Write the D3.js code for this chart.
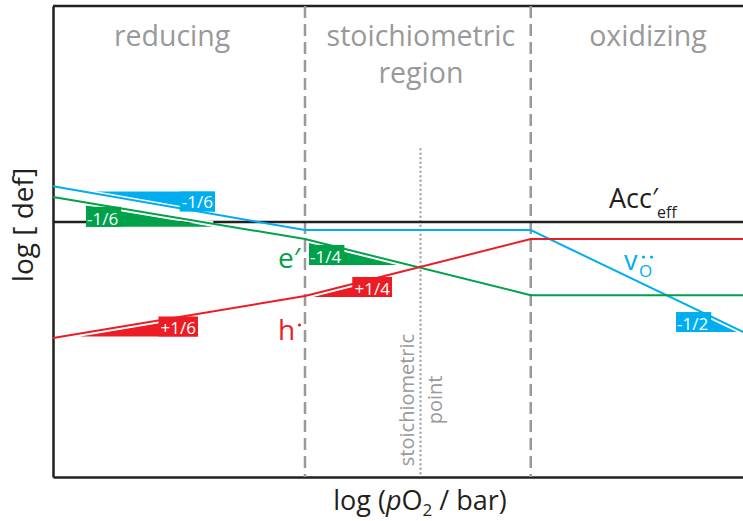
<!DOCTYPE html>
<html>
<head>
<meta charset="utf-8">
<script src="https://cdn.jsdelivr.net/npm/d3@7"></script>
<style>
  body { margin: 0; background: #fff; }
  text { font-family: "Open Sans", sans-serif; }
</style>
</head>
<body>
<svg id="chart" width="743" height="521"></svg>
<script>
/***** Data *****/
// log(pO2) at the region boundaries (arbitrary units)
var xBreaks = [0, 12, 22.75, 33];
var acceptor = [0, 0, 0, 0];
var vacancies = [1.71, -0.38, -0.38, -5.3];
var electrons = [1.19, -0.81, -3.48, -3.48];
var holes = [-5.52, -3.52, -0.81, -0.81];
var stoichPoint = 17.5;
var stoichTop = 3.52;
var regionLabels = [["reducing"], ["stoichiometric", "region"], ["oxidizing"]];
var regionCenters = [5.67, 17.52, 28.33];

// slope triangles
var slopeSeries = ["vacancies", "electrons", "electrons", "holes", "holes", "vacancies"];
var slopeStart = [1.76, 1.57, 12.19, 12.38, 1.29, 29.67];
var slopeEnd = [7.71, 7.62, 16.38, 16.14, 6.9, 32.57];
var slopeSide = ["above", "below", "below", "below", "below", "below"];
var slopeClip = [null, null, null, null, null, -4.43];
var slopeLabels = ["-1/6", "-1/6", "-1/4", "+1/4", "+1/6", "-1/2"];

(function (d3) {

    /***** Configuration *****/
    var margin = { top: 6, right: 0, bottom: 44, left: 53 };
    var svg = d3.select("#chart");
    var width = 743 - margin.left - margin.right;
    var height = 521 - margin.top - margin.bottom;

    var colors = {
        acceptor: "#231f20",
        vacancies: "#00aeef",
        electrons: "#00a14b",
        holes: "#ed1c24"
    };
    var series = {
        acceptor: acceptor,
        vacancies: vacancies,
        electrons: electrons,
        holes: holes
    };
    var gray = "#999999";

    /***** Scales *****/
    var x = d3.scaleLinear().domain([0, 33]).range([0, 693]);
    var y = d3.scaleLinear().domain([-12.14, 10.29]).range([height, 0]);

    var g = svg.append("g")
               .attr("transform", "translate(" + margin.left + "," + margin.top + ")");

    // piecewise value of a series at log(pO2) = v
    function valueAt(name, v) {
        return d3.scaleLinear().domain(xBreaks).range(series[name])(v);
    }

    /***** Frame *****/
    var xAxis = d3.axisBottom(x).tickValues([]).tickSizeOuter(0);
    var yAxis = d3.axisLeft(y).tickValues([]).tickSizeOuter(0);
    g.append("g").attr("transform", "translate(0," + height + ")").call(xAxis)
        .select(".domain").attr("stroke", "#231f20").attr("stroke-width", 2.5);
    g.append("g").call(yAxis)
        .select(".domain").attr("stroke", "#231f20").attr("stroke-width", 2.5);
    g.append("line")
        .attr("x1", x(0)).attr("x2", width)
        .attr("y1", 0).attr("y2", 0)
        .attr("stroke", "#231f20").attr("stroke-width", 2.5);

    /***** Region boundaries *****/
    g.selectAll(".boundary")
        .data([xBreaks[1], xBreaks[2]])
        .enter().append("line")
        .attr("class", "boundary")
        .attr("x1", function (d) { return x(d); })
        .attr("x2", function (d) { return x(d); })
        .attr("y1", 0).attr("y2", height)
        .attr("stroke", gray).attr("stroke-width", 2.5)
        .attr("stroke-dasharray", "12,6");

    g.append("line")
        .attr("x1", x(stoichPoint)).attr("x2", x(stoichPoint))
        .attr("y1", y(stoichTop)).attr("y2", height)
        .attr("stroke", gray).attr("stroke-width", 2)
        .attr("stroke-dasharray", "2,2.5");

    var regions = g.selectAll(".region")
        .data(regionLabels)
        .enter().append("text")
        .attr("class", "region")
        .attr("text-anchor", "middle")
        .attr("fill", gray)
        .style("font-size", "28.5px");
    regions.selectAll("tspan")
        .data(function (d, i) { return d.map(function (t) { return { t: t, i: i }; }); })
        .enter().append("tspan")
        .attr("x", function (d) { return x(regionCenters[d.i]); })
        .attr("y", function (d, j) { return 40 + j * 37; })
        .text(function (d) { return d.t; });

    /***** Acceptor line (under triangles) *****/
    var line = d3.line()
        .x(function (d, i) { return x(xBreaks[i]); })
        .y(function (d) { return y(d); });

    g.append("path")
        .attr("d", line(acceptor))
        .attr("fill", "none")
        .attr("stroke", colors.acceptor)
        .attr("stroke-width", 2.5);

    /***** Slope triangles *****/
    var defs = svg.append("defs");
    slopeLabels.forEach(function (label, i) {
        var name = slopeSeries[i];
        var above = slopeSide[i] === "above";
        var x0 = slopeStart[i], x1 = slopeEnd[i];
        var p0 = [x(x0), y(valueAt(name, x0))];
        var p1 = [x(x1), y(valueAt(name, x1))];
        var rising = p1[1] < p0[1];
        // right-angle corner
        var corner = (above || rising) ? [p1[0], p0[1]] : [p0[0], p1[1]];
        var cornerRight = corner[0] === p1[0];
        // small shift away from the line
        var shift = above ? -1 : 3;

        var tg = g.append("g");
        if (slopeClip[i] !== null) {
            defs.append("clipPath").attr("id", "clip" + i)
                .append("rect")
                .attr("x", p0[0] - 5).attr("y", y(slopeClip[i]))
                .attr("width", p1[0] - p0[0] + 10).attr("height", 60);
            tg.attr("clip-path", "url(#clip" + i + ")");
        }
        tg.append("path")
            .attr("d", "M" + p0 + "L" + p1 + "L" + corner + "Z")
            .attr("transform", "translate(0," + shift + ")")
            .attr("fill", colors[name]);

        var cy = corner[1] + shift;
        var txt = g.append("text")
            .attr("fill", "#fff")
            .style("font-size", "17px")
            .attr("text-anchor", cornerRight ? "end" : "start")
            .attr("x", corner[0] + (cornerRight ? -2 : 1))
            .attr("y", above ? cy + 16 : cy - 2)
            .text(label);
        var bb = txt.node().getBBox();
        var bw = bb.width + 4, bh = 20;
        g.insert("rect", function () { return txt.node(); })
            .attr("x", cornerRight ? corner[0] - bw : corner[0])
            .attr("y", above ? cy : cy - bh)
            .attr("width", bw).attr("height", bh)
            .attr("fill", colors[name]);

        // white gap between the line and the triangle
        tg.append("line")
            .attr("x1", p0[0]).attr("y1", p0[1])
            .attr("x2", p1[0]).attr("y2", p1[1])
            .attr("stroke", "#fff").attr("stroke-width", 5);
    });

    /***** Defect lines *****/
    ["vacancies", "electrons", "holes"].forEach(function (name) {
        g.append("path")
            .attr("d", line(series[name]))
            .attr("fill", "none")
            .attr("stroke", colors[name])
            .attr("stroke-width", 2);
    });

    /***** Labels *****/
    // stoichiometric point
    svg.append("text")
        .attr("transform", "translate(414,400) rotate(-90)")
        .attr("text-anchor", "middle")
        .attr("fill", gray)
        .style("font-size", "20px")
        .text("stoichiometric");
    svg.append("text")
        .attr("transform", "translate(442,400) rotate(-90)")
        .attr("text-anchor", "middle")
        .attr("fill", gray)
        .style("font-size", "20px")
        .text("point");

    // Acc'eff
    svg.append("text").attr("x", 609).attr("y", 208)
        .attr("fill", "#231f20").style("font-size", "27px").text("Acc");
    svg.append("text").attr("x", 652).attr("y", 206)
        .attr("fill", "#231f20").style("font-size", "26px").text("\u2032");
    svg.append("text").attr("x", 657).attr("y", 218)
        .attr("fill", "#231f20").style("font-size", "16px").text("eff");

    // e'
    svg.append("text").attr("x", 278).attr("y", 268)
        .attr("fill", colors.electrons).style("font-size", "28px").text("e\u2032");

    // h.
    svg.append("text").attr("x", 278).attr("y", 340)
        .attr("fill", colors.holes).style("font-size", "28px").text("h");
    svg.append("circle").attr("cx", 299.5).attr("cy", 325).attr("r", 1.6)
        .attr("fill", colors.holes);

    // V_O..
    svg.append("text").attr("x", 624).attr("y", 270)
        .attr("fill", colors.vacancies).style("font-size", "27px").text("v");
    svg.append("text").attr("x", 639).attr("y", 277)
        .attr("fill", colors.vacancies).style("font-size", "17px").text("O");
    svg.selectAll(".vdot")
        .data([643.5, 651.5])
        .enter().append("circle")
        .attr("class", "vdot")
        .attr("cx", function (d) { return d; }).attr("cy", 257).attr("r", 1.6)
        .attr("fill", colors.vacancies);

    // axis titles
    svg.append("text")
        .attr("transform", "translate(33,225) rotate(-90)")
        .attr("text-anchor", "middle")
        .attr("fill", "#231f20")
        .style("font-size", "28px")
        .text("log [ def]");

    var xt = svg.append("text")
        .attr("x", 420).attr("y", 510)
        .attr("text-anchor", "middle")
        .attr("fill", "#231f20")
        .style("font-size", "27px");
    xt.append("tspan").text("log (");
    xt.append("tspan").style("font-style", "italic").text("p");
    xt.append("tspan").text("O");
    xt.append("tspan").attr("dy", 6).style("font-size", "17px").text("2");
    xt.append("tspan").attr("dy", -6).text(" / bar)");

})(d3);
</script>
</body>
</html>
